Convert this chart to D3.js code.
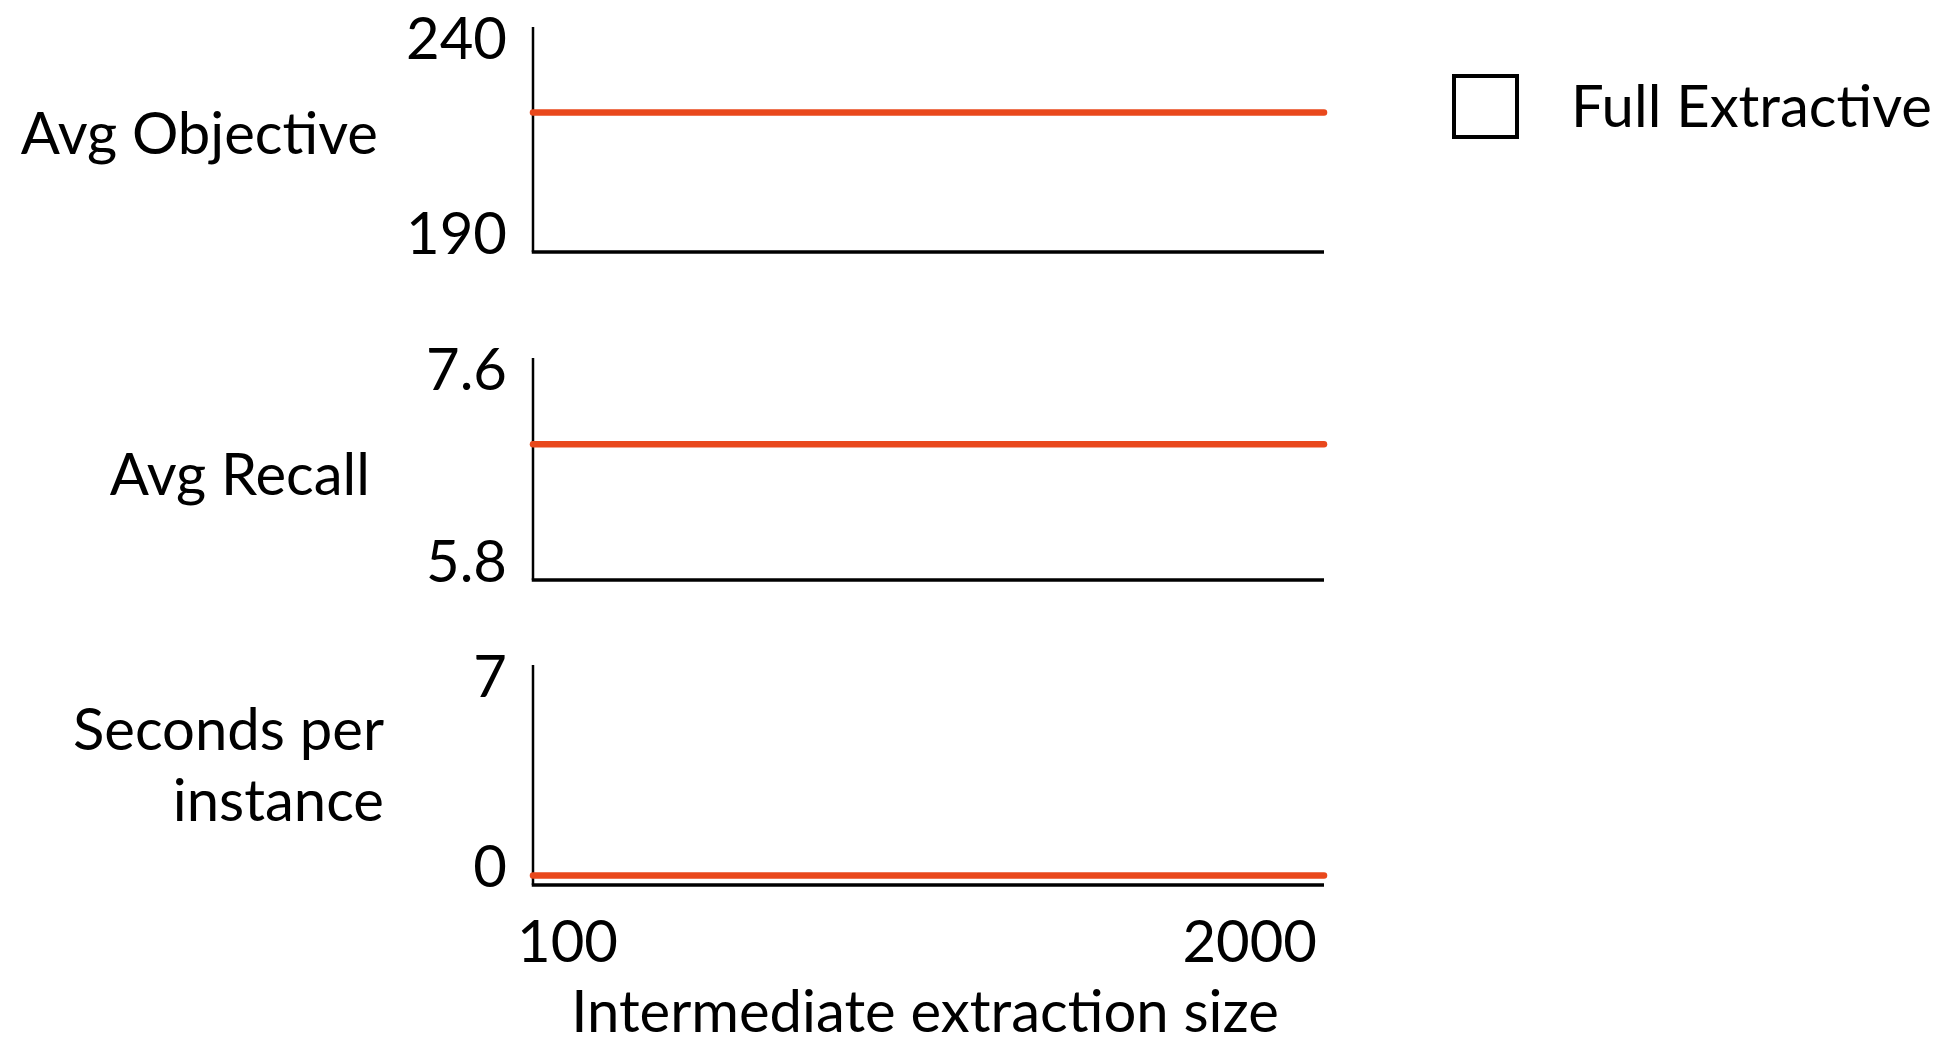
<!DOCTYPE html>
<html>
<head>
<meta charset="utf-8">
<script src="https://cdn.jsdelivr.net/npm/d3@7"></script>
<style>
  body { margin: 0; background: #fff; }
  svg { display: block; }
  text { font-family: Lato, "Open Sans", sans-serif; fill: #000; }
</style>
</head>
<body>
<div id="chart"></div>
<script>
// x values (intermediate extraction size)
var sizes = [100, 2000];
var xTicks = ["100", "2000"];

// one panel per metric
var panelTitles = [["Avg Objective"], ["Avg Recall"], ["Seconds per", "instance"]];
var panelDomains = [[190, 240], [5.8, 7.6], [0, 7]];
var panelTickLabels = [["190", "240"], ["5.8", "7.6"], ["0", "7"]];

// Full Extractive series, one array per panel
var fullObjective = [221, 221];
var fullRecall = [6.9, 6.9];
var fullSeconds = [0.3, 0.3];
var seriesName = "Full Extractive";

var seriesByPanel = [fullObjective, fullRecall, fullSeconds];

var W = 1944, H = 1042;
var lineColor = "#e9481c";
var fs = 58;

var svg = d3.select("#chart").append("svg")
    .attr("width", W)
    .attr("height", H);

var x = d3.scaleLinear()
    .domain([sizes[0], sizes[sizes.length - 1]])
    .range([533, 1324]);

// vertical extents of the three panels
var panelTops = [27, 358, 665];
var panelBottoms = [252, 580, 885];
var titleShift = [-6, 6, -10];
var titleRight = [378, 370, 384];

var line = null;

panelDomains.forEach(function(dom, i) {
    var y = d3.scaleLinear()
        .domain(dom)
        .range([panelBottoms[i], panelTops[i]]);

    var g = svg.append("g");

    // axis lines
    g.append("line")
        .attr("x1", x.range()[0]).attr("x2", x.range()[0])
        .attr("y1", panelTops[i]).attr("y2", panelBottoms[i])
        .attr("stroke", "#000").attr("stroke-width", 2.5);
    g.append("line")
        .attr("x1", x.range()[0] - 1.25).attr("x2", x.range()[1])
        .attr("y1", panelBottoms[i]).attr("y2", panelBottoms[i])
        .attr("stroke", "#000").attr("stroke-width", 3.5);

    // y tick labels
    var ax = g.append("g")
        .attr("transform", "translate(" + x.range()[0] + ",0)")
        .call(d3.axisLeft(y).tickValues(dom).tickSize(0).tickPadding(26)
            .tickFormat(function(d, j) { return panelTickLabels[i][j]; }));
    ax.select(".domain").remove();
    ax.selectAll("text")
        .attr("font-size", fs)
        .attr("font-family", null)
        .attr("dy", function(d, j) { return j == 0 ? "0em" : "0.55em"; })
        .attr("y", function(d, j) { return j == 0 ? 1 : 0; });

    // y title
    var mid = (panelTops[i] + panelBottoms[i]) / 2;
    var lines = panelTitles[i];
    lines.forEach(function(t, k) {
        var off = (k - (lines.length - 1) / 2) * 71;
        g.append("text")
            .attr("x", titleRight[i])
            .attr("y", mid + off + titleShift[i])
            .attr("dy", "0.35em")
            .attr("text-anchor", "end")
            .attr("font-size", fs)
            .text(t);
    });

    // series line
    line = d3.line()
        .x(function(d, j) { return x(sizes[j]); })
        .y(function(d) { return y(d); });
    g.append("path")
        .datum(seriesByPanel[i])
        .attr("d", line)
        .attr("fill", "none")
        .attr("stroke", lineColor)
        .attr("stroke-width", 6.5)
        .attr("stroke-linecap", "round");
});

// x tick labels
svg.selectAll(".xtick")
    .data(sizes)
    .enter().append("text")
    .attr("class", "xtick")
    .attr("x", function(d, j) { return j == 0 ? x(d) - 16 : x(d) - 7; })
    .attr("y", 942)
    .attr("dy", "0.35em")
    .attr("text-anchor", function(d, j) { return j == 0 ? "start" : "end"; })
    .attr("font-size", fs)
    .text(function(d, j) { return xTicks[j]; });

// x title
svg.append("text")
    .attr("x", 925)
    .attr("y", 1012)
    .attr("dy", "0.35em")
    .attr("text-anchor", "middle")
    .attr("font-size", fs)
    .text("Intermediate extraction size");

// legend
svg.append("rect")
    .attr("x", 1454).attr("y", 76)
    .attr("width", 63).attr("height", 61)
    .attr("fill", "none")
    .attr("stroke", "#000")
    .attr("stroke-width", 4);
svg.append("text")
    .attr("x", 1571)
    .attr("y", 107)
    .attr("dy", "0.35em")
    .attr("font-size", fs)
    .text(seriesName);
</script>
</body>
</html>
